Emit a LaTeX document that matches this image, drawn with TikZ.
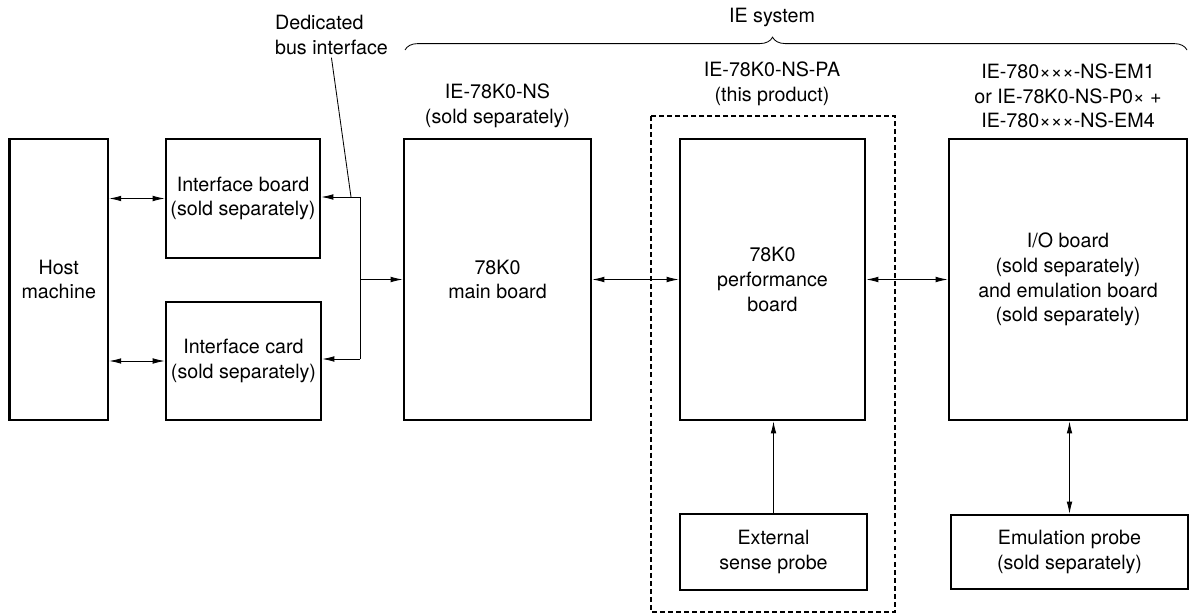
\documentclass[tikz,border=0pt]{standalone}
\usepackage{fontspec}
\setmainfont{TeX Gyre Heros}
\usetikzlibrary{arrows.meta,decorations.pathreplacing}

\begin{document}
\begin{tikzpicture}[x=0.025cm, y=-0.025cm,
    font=\fontsize{14}{17.5}\selectfont,
    box/.style={draw, rectangle, line width=1.8pt, align=center, inner sep=0pt},
    link/.style={line width=0.6pt, {Latex[length=3mm,width=1.4mm]}-{Latex[length=3mm,width=1.4mm]}},
    feed/.style={line width=0.6pt, -{Latex[length=3mm,width=1.4mm]}},
    wire/.style={line width=0.6pt},
    frame/.style={line width=0.8pt, dash pattern=on 3.5pt off 2.2pt}]
    \useasboundingbox (0,0) rectangle (1190,616);

    % boards
    \node (host) [box, minimum width=2.46cm, minimum height=7.03cm] at (58.75,279.5) {Host\\machine};
    \node (ifboard) [box, minimum width=3.85cm, minimum height=2.98cm] at (243,198.5) {Interface board\\(sold separately)};
    \node (ifcard) [box, minimum width=3.875cm, minimum height=2.95cm] at (243.5,361) {Interface card\\(sold separately)};
    \node (main) [box, minimum width=4.675cm, minimum height=7.03cm] at (497.5,279.5) {78K0\\main board};
    \node (perf) [box, minimum width=4.625cm, minimum height=7.03cm] at (772.5,279.5) {78K0\\performance\\board};
    \node (io) [box, minimum width=5.95cm, minimum height=7.03cm] at (1068,279.5) {I/O board\\(sold separately)\\and emulation board\\(sold separately)};
    \node (sense) [box, minimum width=4.675cm, minimum height=1.9cm] at (773.5,552) {External\\sense probe};
    \node (emu) [box, minimum width=5.925cm, minimum height=1.85cm] at (1069.5,552) {Emulation probe\\(sold separately)};

    % this product
    \draw[frame] (651,116) rectangle (895,612);

    % labels
    \node (mainlabel) [align=center] at (497.5,106) {IE-78K0-NS\\(sold separately)};
    \node (perflabel) [align=center] at (772,84) {IE-78K0-NS-PA\\(this product)};
    \node (iolabel) [align=center] at (1068,96) {IE-780×××-NS-EM1\\or IE-78K0-NS-P0× +\\IE-780×××-NS-EM4};
    \node (syslabel) at (772,17) {IE system};
    \node (buslabel) [align=left, anchor=west, inner sep=2pt] at (272,35) {Dedicated\\bus interface};
    \draw[wire, decorate, decoration={brace, amplitude=0.32cm, aspect=0.47}] (405,50) -- (1187,50);

    % bus
    \coordinate (bustap) at (360,197);
    \coordinate (busend) at (360,359);
    \coordinate (leadtip) at (351,197);
    \draw[wire] (buslabel.south) -- (leadtip);
    \draw[feed] (bustap) -- (bustap -| ifboard.east);
    \draw[wire] (bustap) -- (busend);
    \draw[feed] (busend) -- (busend -| ifcard.east);
    \draw[feed] (bustap |- main) -- (main.west);

    % links
    \draw[link] (host.east |- ifboard) -- (ifboard.west);
    \draw[link] (host.east |- ifcard) -- (ifcard.west);
    \draw[link] (main) -- (perf);
    \draw[link] (perf) -- (io);
    \draw[feed] (sense.north) -- (sense.north |- perf.south);
    \draw[link] (emu.north) -- (emu.north |- io.south);
\end{tikzpicture}
\end{document}
